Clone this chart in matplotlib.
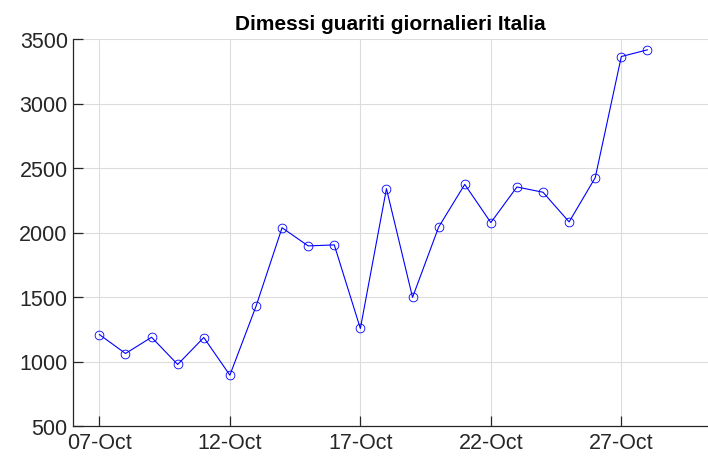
import matplotlib
matplotlib.use("Agg")
import matplotlib.pyplot as plt
import matplotlib.dates as mdates
import numpy as np
import datetime as dt

dates = [dt.date(2020, 10, d) for d in range(7, 29)]
values = [1209, 1062, 1188, 977, 1186, 894, 1427, 2037, 1896, 1904,
          1256, 2340, 1497, 2042, 2373, 2077, 2353, 2312, 2082, 2425,
          3364, 3416]
xtick_dates = [dt.date(2020, 10, d) for d in (7, 12, 17, 22, 27)]
yticks = [500, 1000, 1500, 2000, 2500, 3000, 3500]
title = "Dimessi guariti giornalieri Italia"

plt.rcParams['font.family'] = ['Liberation Sans', 'DejaVu Sans']

fig = plt.figure(figsize=(7.08, 4.60), dpi=100)
ax = fig.add_axes([73.3 / 708, 1 - 427 / 460, 1 - 73.3 / 708, (427 - 40) / 460])

ax.plot(dates, values, color=(0, 0, 1), lw=0.8, marker='o', ms=6.3,
        mfc='none', mec=(0, 0, 1), mew=0.6)

x0 = mdates.date2num(dt.date(2020, 10, 6))
x1 = mdates.date2num(dt.date(2020, 10, 7)) + (708 - 99.3) / 26.1
ax.set_xlim(x0, x1)
ax.set_ylim(500, 3500)
ax.set_xticks(xtick_dates)
ax.xaxis.set_major_formatter(mdates.DateFormatter('%d-%b'))
ax.set_yticks(yticks)

ax.grid(True, color='#dcdcdc', lw=0.8)
ax.set_axisbelow(True)
for s in ('top', 'right'):
    ax.spines[s].set_visible(False)
for s in ('left', 'bottom'):
    ax.spines[s].set_color('#262626')
    ax.spines[s].set_linewidth(0.9)
ax.tick_params(direction='in', length=7, width=0.9, color='#262626',
               labelsize=15.5, labelcolor='#262626', pad=4)

ax.set_title(title, fontsize=15, fontweight='bold', pad=7)

fig.savefig('out.png', dpi=100)
